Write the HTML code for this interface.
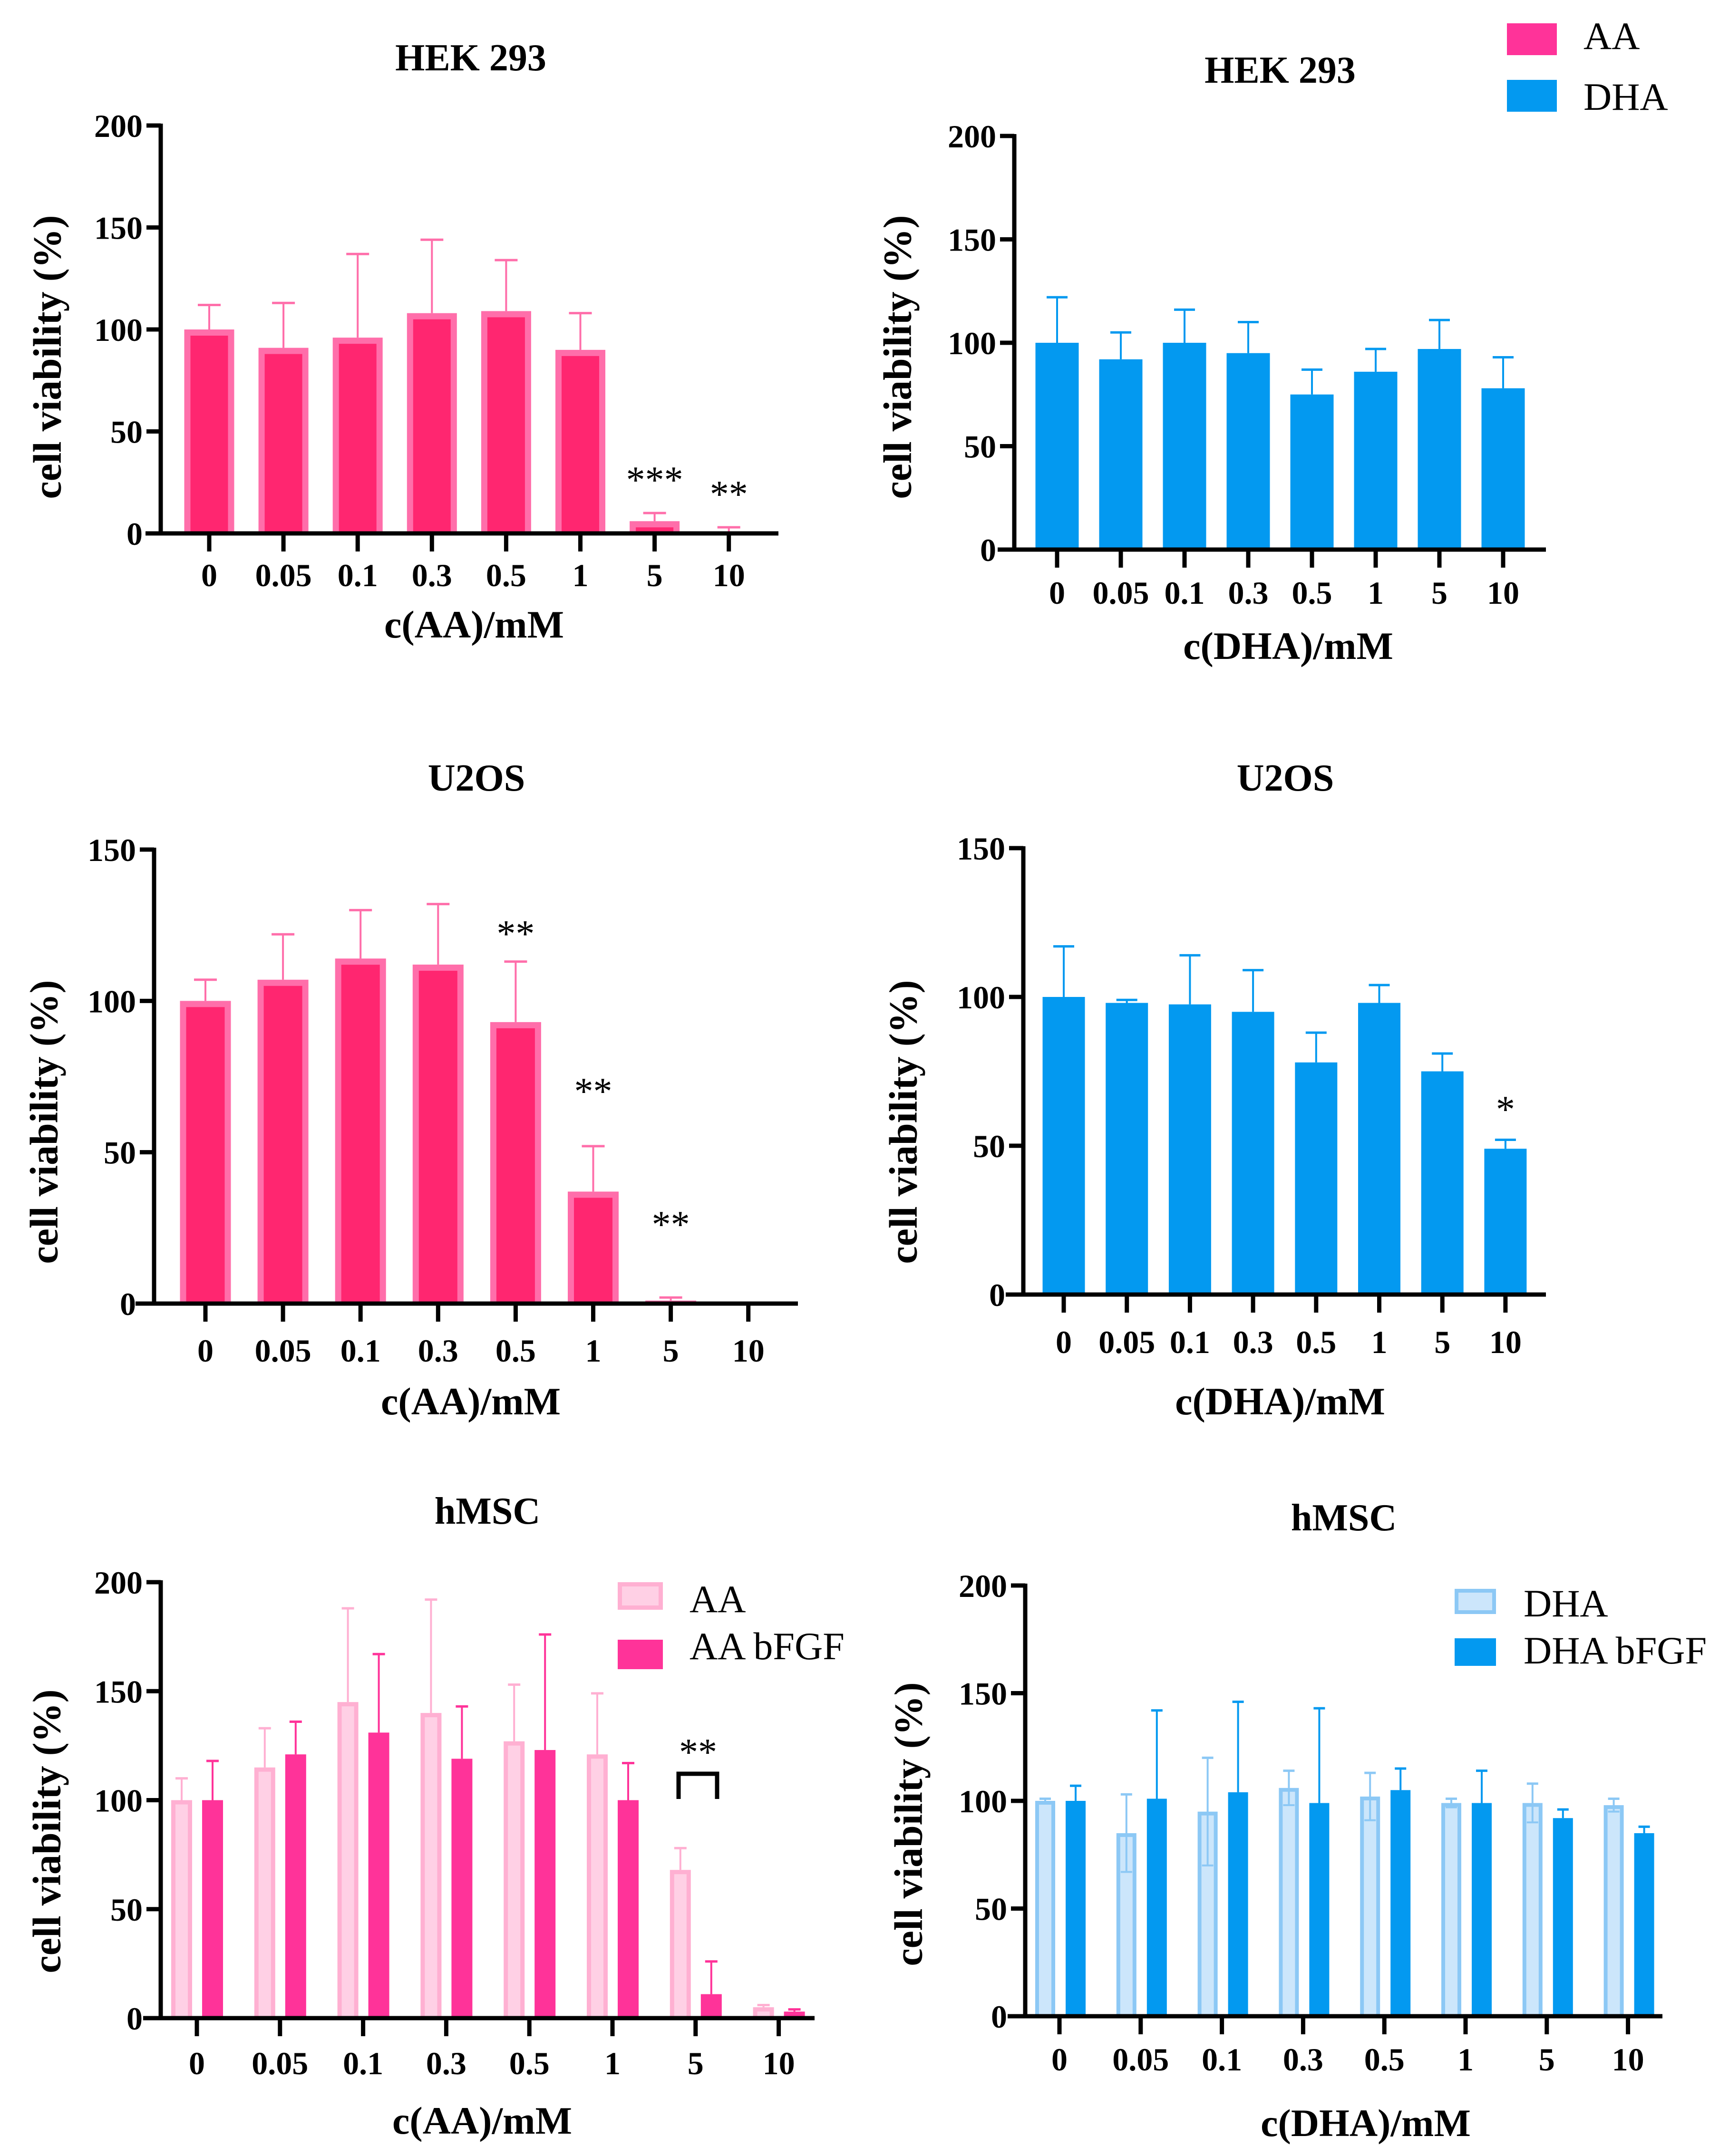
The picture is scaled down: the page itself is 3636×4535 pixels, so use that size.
<!DOCTYPE html>
<html><head><meta charset="utf-8"><title>Cell viability</title>
<style>
html,body{margin:0;padding:0;background:#fff;}
svg{display:block;font-family:"Liberation Serif","Times New Roman",serif;}
svg text{font-family:"Liberation Serif","Times New Roman",serif;}
</style></head>
<body>
<svg id="fig" width="3636" height="4535" viewBox="0 0 3636 4535" xmlns="http://www.w3.org/2000/svg" font-family="Liberation Serif, serif"></svg>
<script>
// ---- data ----
const categories = ["0","0.05","0.1","0.3","0.5","1","5","10"];
const hekAAMean = [100,91,96,108,109,90,6,1];
const hekAAErr  = [112,113,137,144,134,108,10,3];
const hekAAStars = ["","","","","","","***","**"];
const hekDHAMean = [100,92,100,95,75,86,97,78];
const hekDHAErr  = [122,105,116,110,87,97,111,93];
const u2osAAMean = [100,107,114,112,93,37,1,0];
const u2osAAErr  = [107,122,130,132,113,52,2,0];
const u2osAAStars = ["","","","","**","**","**",""];
const u2osDHAMean = [100,98,97.5,95,78,98,75,49];
const u2osDHAErr  = [117,99,114,109,88,104,81,52];
const u2osDHAStars = ["","","","","","","","*"];
const hmscAAMean = [100,115,145,140,127,121,68,5];
const hmscAAErr  = [110,133,188,192,153,149,78,6];
const hmscAAbMean = [100,121,131,119,123,100,11,3];
const hmscAAbErr  = [118,136,167,143,176,117,26,4];
const hmscDHAMean = [100,85,95,106,102,99,99,98];
const hmscDHAErr  = [101,103,120,114,113,101,108,101];
const hmscDHAbMean = [100,101,104,99,105,99,92,85];
const hmscDHAbErr  = [107,142,146,143,115,114,96,88];
const ticks200 = [0,50,100,150,200];
const ticks150 = [0,50,100,150];

const NS = "http://www.w3.org/2000/svg";
const FONT = "Liberation Serif, Times New Roman, serif";
const svg = document.getElementById("fig");
function mk(tag, attrs, parent){
  const e = document.createElementNS(NS, tag);
  for (const k in attrs) e.setAttribute(k, attrs[k]);
  (parent||svg).appendChild(e);
  return e;
}
function txt(s, attrs, parent){
  if (!attrs["font-family"]) attrs["font-family"] = FONT;
  const t = mk("text", attrs, parent); t.textContent = s; return t;
}

function panel(p){
  const g = mk("g", {});
  
  
  const yMax = p.yTicks[p.yTicks.length-1];
  const ys = v => p.y0 - (v / yMax) * (p.y0 - p.yTop);
  const xs = i => p.tick0 + i * p.step;
  const t = txt(p.title, {x:p.titleX, y:p.titleY, "font-size":80, "font-weight":"bold", "text-anchor":"middle"}, g);
  
  
  p.series.forEach(s => {
    s.mean.forEach((v, i) => {
      const cx = xs(i) + s.off;
      const top = ys(v), w = s.w;
      const e = s.err[i];
      if (e > v) {
        const el = mk("line", {x1:cx, x2:cx, y1:ys(e), y2:top, stroke:s.errColor, "stroke-width":4}, g);
        
        
        mk("line", {x1:cx - s.cap/2, x2:cx + s.cap/2, y1:ys(e), y2:ys(e), stroke:s.errColor, "stroke-width":5}, g);
      }
      if (v > 0) {
        const r = mk("rect", {x:cx - w/2, y:top, width:w, height:p.y0 - top, fill:s.border}, g);
        
        
        const b = s.bw;
        if (b > 0 && p.y0 - top > b) {
          mk("rect", {x:cx - w/2 + b, y:top + b, width:w - 2*b, height:p.y0 - top - b, fill:s.fill}, g);
        }
        if (s.innerErr && e > v) {
          const lo = v - (e - v);
          mk("line", {x1:cx, x2:cx, y1:top, y2:ys(Math.max(lo,0)), stroke:s.errColor, "stroke-width":4}, g);
          mk("line", {x1:cx - s.cap/2, x2:cx + s.cap/2, y1:ys(Math.max(lo,0)), y2:ys(Math.max(lo,0)), stroke:s.errColor, "stroke-width":4}, g);
        }
      }
      if (s.stars && s.stars[i]) {
        const st = txt(s.stars[i], {x:cx, y:ys(s.starAt[i]), "font-size":80, "text-anchor":"middle"}, g);
        
        
      }
    });
  });
  const ya = mk("line", {x1:p.axisX, x2:p.axisX, y1:p.yTop - 4, y2:p.y0 + 4, stroke:"#000", "stroke-width":9}, g);
  
  
  const xa = mk("line", {x1:p.xStart, x2:p.xEnd, y1:p.y0, y2:p.y0, stroke:"#000", "stroke-width":9}, g);
  
  
  p.yTicks.forEach(v => {
    mk("line", {x1:p.axisX - 30, x2:p.axisX, y1:ys(v), y2:ys(v), stroke:"#000", "stroke-width":9}, g);
    const tl = txt(String(v), {x:p.axisX - 38, y:ys(v) + 24, "font-size":68, "font-weight":"bold", "text-anchor":"end"}, g);
    
    
  });
  categories.forEach((c, i) => {
    mk("line", {x1:xs(i), x2:xs(i), y1:p.y0, y2:p.y0 + 38, stroke:"#000", "stroke-width":9}, g);
    const tl = txt(c, {x:xs(i), y:p.labelY, "font-size":68, "font-weight":"bold", "text-anchor":"middle"}, g);
    
    
  });
  const xt = txt(p.xTitle, {x:p.xTitleX, y:p.xTitleY, "font-size":82, "font-weight":"bold", "text-anchor":"middle"}, g);
  
  
  const yt = txt("cell viability (%)", {x:0, y:0, "font-size":84, "font-weight":"bold", "text-anchor":"middle", "dominant-baseline":"central", transform:"translate(" + p.yTitleX + "," + p.yTitleY + ") rotate(-90)"}, g);
  
  
  return {g, ys, xs};
}

const pinkS = (mean, err, stars, key, w) => ({key, mean, err, off:0, w, bw:13, border:"#ff6eaa", fill:"#ff2670", errColor:"#ff6eaa", cap:48, stars, starAt: mean.map((m,i)=>err[i] + 10)});
const blueS = (mean, err, stars, key, w) => ({key, mean, err, off:0, w, bw:0, border:"#0399f0", fill:"#0399f0", errColor:"#0399f0", cap:44, stars, starAt: mean.map((m,i)=>err[i] + 10)});

panel({name:"hek293-aa-chart", title:"HEK 293", titleX:990, titleY:148, yTicks:ticks200, yTop:264, y0:1122, axisX:338, xStart:306, xEnd:1637,
  tick0:440, step:156.1, labelY:1233, xTitle:"c(AA)/mM", xTitleX:997, xTitleY:1341, yTitleX:100, yTitleY:751,
  series:[pinkS(hekAAMean, hekAAErr, hekAAStars, "aa", 105)]});
panel({name:"hek293-dha-chart", title:"HEK 293", titleX:2692, titleY:174, yTicks:ticks200, yTop:286, y0:1156, axisX:2133, xStart:2098, xEnd:3251,
  tick0:2223, step:134, labelY:1270, xTitle:"c(DHA)/mM", xTitleX:2709, xTitleY:1386, yTitleX:1888, yTitleY:751,
  series:[blueS(hekDHAMean, hekDHAErr, null, "dha", 91)]});
panel({name:"u2os-aa-chart", title:"U2OS", titleX:1002, titleY:1663, yTicks:ticks150, yTop:1787, y0:2742, axisX:324, xStart:285, xEnd:1678,
  tick0:432, step:163.1, labelY:2864, xTitle:"c(AA)/mM", xTitleX:990, xTitleY:2975, yTitleX:93, yTitleY:2360,
  series:[Object.assign(pinkS(u2osAAMean, u2osAAErr, u2osAAStars, "aa", 107), {starAt:[0,0,0,0,118,66,22,0]})]});
panel({name:"u2os-dha-chart", title:"U2OS", titleX:2703, titleY:1663, yTicks:ticks150, yTop:1784, y0:2723, axisX:2152, xStart:2115, xEnd:3251,
  tick0:2237, step:132.7, labelY:2846, xTitle:"c(DHA)/mM", xTitleX:2692, xTitleY:2975, yTitleX:1900, yTitleY:2360,
  series:[Object.assign(blueS(u2osDHAMean, u2osDHAErr, u2osDHAStars, "dha", 89), {starAt:[0,0,0,0,0,0,0,58]})]});
panel({name:"hmsc-aa-chart", title:"hMSC", titleX:1025, titleY:3205, yTicks:ticks200, yTop:3328, y0:4245, axisX:338, xStart:301, xEnd:1713,
  tick0:414, step:174.8, labelY:4363, xTitle:"c(AA)/mM", xTitleX:1014, xTitleY:4488, yTitleX:99, yTitleY:3852,
  series:[
    {key:"aa", mean:hmscAAMean, err:hmscAAErr, off:-32, w:44, bw:9, border:"#ffb0d2", fill:"#ffd0e5", errColor:"#ffb0d2", cap:26},
    {key:"aa-bfgf", mean:hmscAAbMean, err:hmscAAbErr, off:33, w:44, bw:0, border:"#ff3399", fill:"#ff3399", errColor:"#ff3399", cap:26}
  ]});
panel({name:"hmsc-dha-chart", title:"hMSC", titleX:2826, titleY:3219, yTicks:ticks200, yTop:3335, y0:4241, axisX:2156, xStart:2119, xEnd:3496,
  tick0:2228, step:170.8, labelY:4355, xTitle:"c(DHA)/mM", xTitleX:2872, xTitleY:4493, yTitleX:1911, yTitleY:3837,
  series:[
    {key:"dha", mean:hmscDHAMean, err:hmscDHAErr, off:-30, w:42, bw:8, border:"#8cc8f5", fill:"#cce6fb", errColor:"#8cc8f5", cap:24, innerErr:true},
    {key:"dha-bfgf", mean:hmscDHAbMean, err:hmscDHAbErr, off:34, w:42, bw:0, border:"#0399f0", fill:"#0399f0", errColor:"#0399f0", cap:24}
  ]});

const br = mk("path", {d:"M1427 3784 L1427 3731 L1508 3731 L1508 3784", fill:"none", stroke:"#000", "stroke-width":9});


const bs = txt("**", {x:1468, y:3712, "font-size":80, "text-anchor":"middle"});



function legendEntry(x, y, w, h, fill, border, bw, label, tx, ty, name){
  const g = mk("g", {});
  
  
  mk("rect", {x, y, width:w, height:h, fill:border}, g);
  if (bw) mk("rect", {x:x+bw, y:y+bw, width:w-2*bw, height:h-2*bw, fill}, g);
  txt(label, {x:tx, y:ty, "font-size":82}, g);
}
legendEntry(3169, 49, 105, 67, "#ff3399", "#ff3399", 0, "AA", 3330, 103, "legend-entry-aa");
legendEntry(3169, 168, 105, 67, "#0399f0", "#0399f0", 0, "DHA", 3330, 231, "legend-entry-dha");
legendEntry(1299, 3328, 95, 58, "#ffd0e5", "#ffb0d2", 9, "AA", 1450, 3391, "legend-entry-hmsc-aa");
legendEntry(1299, 3449, 95, 62, "#ff3399", "#ff3399", 0, "AA  bFGF", 1450, 3490, "legend-entry-hmsc-aa-bfgf");
legendEntry(3059, 3342, 87, 53, "#cce6fb", "#8cc8f5", 8, "DHA", 3204, 3400, "legend-entry-hmsc-dha");
legendEntry(3059, 3446, 87, 58, "#0399f0", "#0399f0", 0, "DHA  bFGF", 3204, 3499, "legend-entry-hmsc-dha-bfgf");
</script>
</body></html>
